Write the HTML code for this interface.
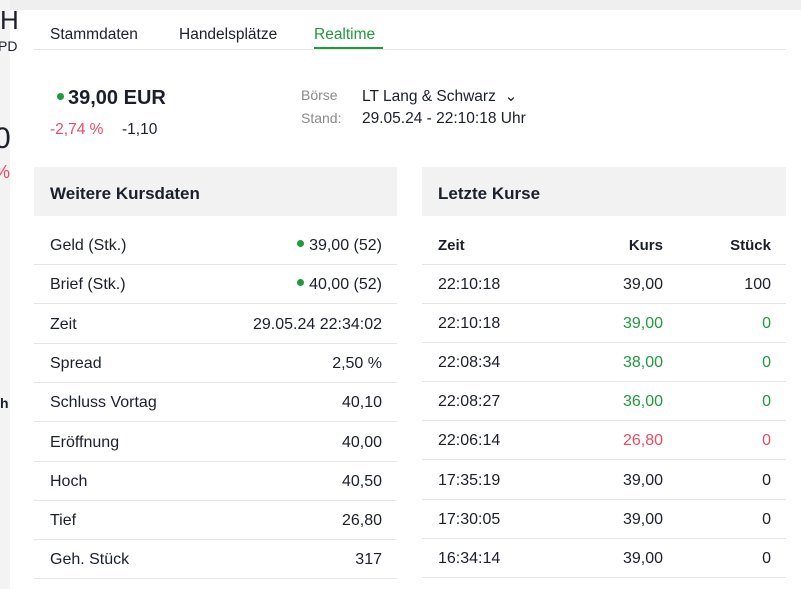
<!DOCTYPE html>
<html><head><meta charset="utf-8"><style>
*{margin:0;padding:0;box-sizing:border-box}
body{width:801px;height:589px;overflow:hidden;background:#fff;font-family:"Liberation Sans",sans-serif;color:#1b1f2a;position:relative;font-size:16px}
.abs{position:absolute;white-space:nowrap}
.topband{position:absolute;left:0;top:0;width:801px;height:10px;background:#efefef}
.leftstrip{position:absolute;left:0;top:0;width:10px;height:589px;background:#f3f3f3;overflow:hidden}
.panel{position:absolute;left:10px;top:10px;width:791px;height:579px;background:#fff}
.g{color:#1f9a3c}.r{color:#ec4b61}
i.dot{display:inline-block;width:7px;height:7px;border-radius:50%;background:#1f9a3c;vertical-align:middle;margin-right:5px;position:relative;top:-2px}
.hdr{position:absolute;background:#f2f2f2;height:49px;font-weight:bold;font-size:17px;padding:17px 0 0 16px}
.row{position:absolute;height:39px;border-bottom:1px solid #e6e6e6}
.row>b{position:absolute;top:11px;font-weight:normal;white-space:nowrap}
.hrow>b{font-weight:bold}
</style></head><body>
<div class="topband"></div>
<div class="leftstrip"></div>
<div class="panel"></div>
<div class="abs" style="left:0;top:5px;font-size:26px">H</div>
<div class="abs" style="left:-2px;top:38px;font-size:14px">PD</div>
<div class="abs" style="left:-6px;top:122px;font-size:30px">0</div>
<div class="abs r" style="left:-6px;top:162px;font-size:18px">%</div>
<div class="abs" style="left:0;top:395px;font-size:14px;font-weight:bold">h</div>

<div class="abs" style="left:50px;top:26px;font-size:15.5px">Stammdaten</div>
<div class="abs" style="left:179px;top:26px;font-size:15.5px">Handelsplätze</div>
<div class="abs g" style="left:314px;top:26px;font-size:15.5px">Realtime</div>
<div class="abs" style="left:34px;top:49px;width:752px;height:1px;background:#e6e6e6"></div>
<div class="abs" style="left:314px;top:47px;width:69px;height:2px;background:#1f9a3c"></div>

<div class="abs" style="left:57px;top:87px;font-size:20px;font-weight:bold"><i class="dot" style="margin-right:4px"></i>39,00 EUR</div>
<div class="abs r" style="left:50px;top:121px;font-size:15.5px">-2,74 %</div>
<div class="abs" style="left:122px;top:121px;font-size:15.5px">-1,10</div>
<div class="abs" style="left:301px;top:87px;font-size:14px;color:#8a8a8a">Börse</div>
<div class="abs" style="left:301px;top:110px;font-size:14px;color:#8a8a8a">Stand:</div>
<div class="abs" style="left:362px;top:87px;font-size:15.5px">LT Lang &amp; Schwarz &nbsp;⌄</div>
<div class="abs" style="left:362px;top:110px;font-size:15.5px">29.05.24 - 22:10:18 Uhr</div>

<div class="hdr" style="left:34px;top:167px;width:363px">Weitere Kursdaten</div>
<div class="hdr" style="left:422px;top:167px;width:364px">Letzte Kurse</div>

<div id="L"></div><div id="R"></div>
<script>
var L=[["Geld (Stk.)","<i class='dot'></i>39,00 (52)"],["Brief (Stk.)","<i class='dot'></i>40,00 (52)"],["Zeit","29.05.24 22:34:02"],["Spread","2,50 %"],["Schluss Vortag","40,10"],["Eröffnung","40,00"],["Hoch","40,50"],["Tief","26,80"],["Geh. Stück","317"]];
var h="";
L.forEach(function(r,i){h+='<div class="row" style="left:34px;top:'+Math.round(226+i*39.3)+'px;width:363px"><b style="left:16px">'+r[0]+'</b><b style="right:15px">'+r[1]+'</b></div>';});
document.getElementById("L").innerHTML=h;
var R=[["22:10:18","39,00","100",""],["22:10:18","39,00","0","g"],["22:08:34","38,00","0","g"],["22:08:27","36,00","0","g"],["22:06:14","26,80","0","r"],["17:35:19","39,00","0",""],["17:30:05","39,00","0",""],["16:34:14","39,00","0",""]];
h='<div class="row hrow" style="left:422px;top:226px;width:364px;font-size:15px"><b style="left:16px">Zeit</b><b style="right:123px">Kurs</b><b style="right:15px">Stück</b></div>';
R.forEach(function(r,i){h+='<div class="row '+r[3]+'" style="left:422px;top:'+Math.round(265+i*39.1)+'px;width:364px"><b style="left:16px;color:#1b1f2a">'+r[0]+'</b><b style="right:123px">'+r[1]+'</b><b style="right:15px">'+r[2]+'</b></div>';});
document.getElementById("R").innerHTML=h;
</script>
</body></html>
